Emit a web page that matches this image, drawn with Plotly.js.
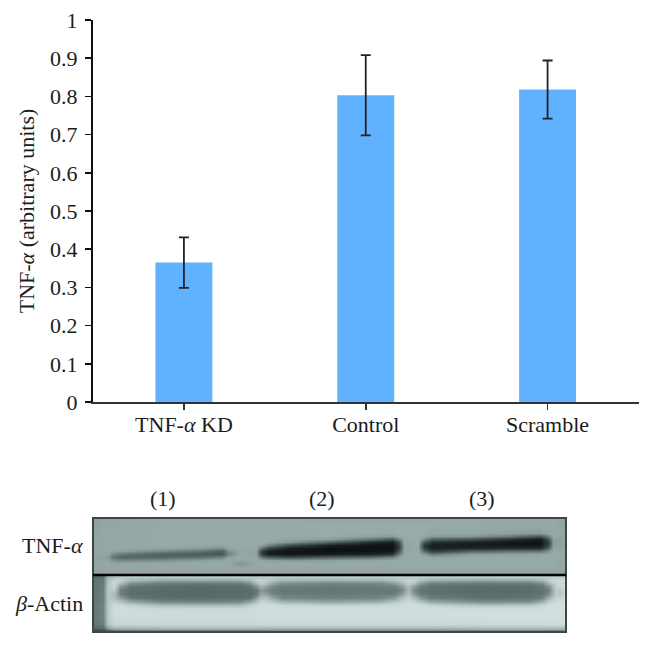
<!DOCTYPE html>
<html>
<head>
<meta charset="utf-8">
<script src="https://cdn.plot.ly/plotly-3.0.1.min.js"></script>
<style>html,body{margin:0;padding:0;background:#fff}#c{width:652px;height:646px}</style>
</head>
<body>
<div id="c"></div>
<script>
var categories = ['TNF-<i>α</i> KD', 'Control', 'Scramble'];
var means = [0.365, 0.803, 0.818];
var errors = [0.066, 0.105, 0.076];
var laneLabels = ['(1)', '(2)', '(3)'];
var blotLabels = ['TNF-<i>α</i>', '<i>β</i>-Actin'];

// Densitometry-like grey levels (one inner list per column).
var tnfCols = [0,15,19,27,67,107,129,135,147,163,169,175,197,237,277,299,305,311,325,331,339,377,417,447,455,460,473];
var tnfRows = [1,8,15,18,21,24,27,30,33,36,39,42,45,50,56];
var tnfGrey = [
 [150,152,154,155,156,156,156,156,156,156,156,155,154,154,152],
 [156,158,158,158,158,158,158,158,158,154,148,154,158,158,156],
 [156,158,158,158,158,158,158,158,155,135,118,140,156,158,156],
 [156,158,158,158,158,158,158,158,150,118,100,130,155,158,156],
 [158,160,160,160,160,160,160,155,130, 92,100,135,158,158,156],
 [158,160,160,160,160,160,158,148,112, 85,110,148,160,158,156],
 [158,160,160,160,160,160,155,135, 90, 85,125,155,160,158,156],
 [158,160,160,160,160,160,160,155,135,125,150,160,160,158,156],
 [158,160,160,160,160,160,160,158,158,160,160,155,142,158,156],
 [158,160,160,160,160,160,160,158,152,154,158,160,160,158,156],
 [158,160,160,160,160,160,150,110, 55, 55,110,155,160,158,156],
 [158,160,160,160,160,156,130, 65, 25, 25, 90,150,160,158,156],
 [158,160,160,160,155,140, 70, 22, 12, 15, 70,145,160,158,156],
 [158,162,162,160,150, 95, 25, 10, 10, 22, 95,150,160,158,156],
 [158,162,160,152,115, 40, 12, 10, 12, 30,105,155,160,158,156],
 [158,162,160,148, 85, 22, 10, 10, 15, 45,125,158,160,158,156],
 [158,162,162,156,125, 70, 50, 50, 70,115,150,160,160,158,156],
 [158,162,162,162,160,158,155,155,158,160,160,160,160,158,156],
 [158,162,162,162,162,160,160,160,160,160,160,160,160,158,156],
 [158,162,160,156,135, 85, 50, 60,105,148,160,160,160,158,156],
 [158,160,158,148, 95, 40, 22, 25, 55,120,155,160,160,158,156],
 [158,160,158,145, 80, 28, 20, 35, 95,150,160,160,160,158,156],
 [158,160,152,120, 45, 15, 15, 40,110,152,160,160,160,158,156],
 [158,158,148, 85, 22, 10, 14, 38,115,155,160,160,160,158,156],
 [158,160,155,125, 80, 55, 62, 95,140,160,160,160,160,158,156],
 [158,160,160,158,150,148,150,156,160,160,160,160,160,158,156],
 [152,154,154,156,156,156,156,156,156,156,156,156,156,154,152]
];

var actinCols = [0,10,15,21,27,37,67,107,147,157,163,168,173,179,189,237,287,302,309,315,321,327,337,387,437,449,456,463,467,473];
var actinRows = [1,4,7,10,14,18,22,26,29,32,36,42,48,52,55];
var actinGrey = [
 [105,110,112,112,112,112,112,112,115,115,115,115,112,100, 50],
 [112,118,120,120,122,122,122,122,125,125,125,125,120,105, 55],
 [180,190,195,198,198,198,198,198,200,200,200,200,195,150, 85],
 [195,212,218,215,200,180,190,212,222,224,224,222,215,170,100],
 [198,212,185,145,122,125,155,198,220,226,226,224,216,175,105],
 [198,180,138,115,108,108,120,165,210,224,226,224,216,175,110],
 [198,160,122,108,104,104,108,135,185,215,224,222,218,180,110],
 [198,158,118,105,100,102,106,130,180,214,222,222,218,180,110],
 [200,160,122,108,104,106,110,135,185,214,222,222,218,180,110],
 [200,180,138,115,106,106,115,160,205,222,224,224,218,180,110],
 [200,208,178,140,115,118,148,192,218,224,226,224,218,180,110],
 [200,212,205,172,145,160,192,215,224,226,226,226,220,180,110],
 [200,208,188,155,132,150,188,215,226,226,226,226,220,180,110],
 [200,192,158,132,120,130,162,205,224,226,226,226,220,180,112],
 [200,175,138,122,116,120,132,178,220,226,226,226,220,180,112],
 [202,168,128,118,114,118,126,160,212,226,228,226,220,180,112],
 [202,172,132,120,116,120,130,172,218,226,228,226,220,180,112],
 [202,188,150,125,115,122,152,202,222,226,228,226,220,180,112],
 [202,205,180,148,130,150,188,215,224,226,228,226,220,180,112],
 [202,214,205,185,172,188,210,222,226,226,228,226,220,180,112],
 [202,210,188,150,130,145,184,215,226,226,228,226,220,180,112],
 [202,188,148,124,114,120,150,200,224,226,228,226,220,180,112],
 [202,165,126,112,108,112,124,165,212,226,228,226,220,180,112],
 [202,158,118,106,104,106,112,138,192,222,228,226,222,182,112],
 [204,160,120,108,106,108,114,142,196,224,228,228,222,182,112],
 [204,175,135,115,110,114,126,172,215,226,228,228,222,182,112],
 [206,210,180,145,128,140,175,212,226,228,228,228,224,182,112],
 [206,220,216,208,202,204,214,224,228,228,228,228,224,182,112],
 [206,222,220,218,200,195,215,226,228,228,228,228,224,182,112],
 [206,222,222,224,224,224,226,228,228,228,228,228,224,182,112]
];

var W = 652, H = 646;
function px(x){ return x / W; }
function py(y){ return 1 - y / H; }

var blotScale = [[0,'rgb(5,10,10)'],[110/255,'rgb(95,112,112)'],[160/255,'rgb(152,170,168)'],[225/255,'rgb(208,220,220)'],[1,'rgb(235,240,240)']];

var traces = [
 {type:'bar', x:categories, y:means, width:0.313, marker:{color:'#60B2FF', line:{width:0}},
  error_y:{type:'data', array:errors, visible:true, color:'#222', thickness:1.8, width:5}, hoverinfo:'skip', xaxis:'x', yaxis:'y'},
 {type:'heatmap', x:tnfCols, y:tnfRows, z:tnfGrey, transpose:true, zmin:0, zmax:255, zsmooth:'best', colorscale:blotScale, showscale:false, hoverinfo:'skip', xaxis:'x2', yaxis:'y2'},
 {type:'heatmap', x:actinCols, y:actinRows, z:actinGrey, transpose:true, zmin:0, zmax:255, zsmooth:'best', colorscale:blotScale, showscale:false, hoverinfo:'skip', xaxis:'x3', yaxis:'y3'}
];

var serif = '"Liberation Serif", serif';
var ink = '#1c1c1c';
var hidden = {showline:false, showticklabels:false, ticks:'', showgrid:false, zeroline:false};
var annos = [];
[163, 322, 482].forEach(function(x, i){
  annos.push({xref:'paper', yref:'paper', x:px(x), y:py(498), text:laneLabels[i], showarrow:false, xanchor:'center', yanchor:'middle', font:{family:serif, size:22, color:ink}});
});
[545, 603].forEach(function(y, i){
  annos.push({xref:'paper', yref:'paper', x:px(85), y:py(y), text:blotLabels[i], showarrow:false, xanchor:'right', yanchor:'middle', font:{family:serif, size:22, color:ink}});
});

var layout = {
  width:W, height:H, margin:{l:0, r:0, t:0, b:0}, paper_bgcolor:'#fff', plot_bgcolor:'#fff', showlegend:false, font:{family:serif, color:ink},
  xaxis:{domain:[px(93), px(638.5)], type:'category', range:[-0.5, 2.5], showline:true, linecolor:'#333', linewidth:2, ticks:'outside', ticklen:6, tickwidth:1.5, tickcolor:'#333', tickfont:{family:serif, size:22, color:ink}, ticklabelstandoff:-4, showgrid:false, zeroline:false, anchor:'y'},
  yaxis:{domain:[py(402), py(20)], range:[0, 1], dtick:0.1, showline:true, linecolor:'#111', linewidth:2, ticks:'outside', ticklen:6, tickwidth:1.5, tickcolor:'#111', tickfont:{family:serif, size:22, color:ink}, ticklabelstandoff:3, showgrid:false, zeroline:false, anchor:'x',
    title:{text:'TNF-<i>α</i> (arbitrary units)', standoff:9, font:{family:serif, size:22, color:ink}}},
  xaxis2:Object.assign({domain:[px(93), px(566)], range:[0, 473], anchor:'y2'}, hidden),
  yaxis2:Object.assign({domain:[py(575), py(518)], range:[57, 0], anchor:'x2'}, hidden),
  xaxis3:Object.assign({domain:[px(93), px(566)], range:[0, 473], anchor:'y3'}, hidden),
  yaxis3:Object.assign({domain:[py(632), py(576)], range:[56, 0], anchor:'x3'}, hidden),
  annotations:annos,
  shapes:[
    {type:'rect', xref:'paper', yref:'paper', x0:px(93), x1:px(566), y0:py(632), y1:py(518), line:{color:'#3c4646', width:2}, fillcolor:'rgba(0,0,0,0)'},
    {type:'line', xref:'paper', yref:'paper', x0:px(93), x1:px(566), y0:py(575), y1:py(575), line:{color:'#000', width:2.5}}
  ]
};
Plotly.newPlot('c', traces, layout, {displayModeBar:false, staticPlot:true});
</script>
</body>
</html>
